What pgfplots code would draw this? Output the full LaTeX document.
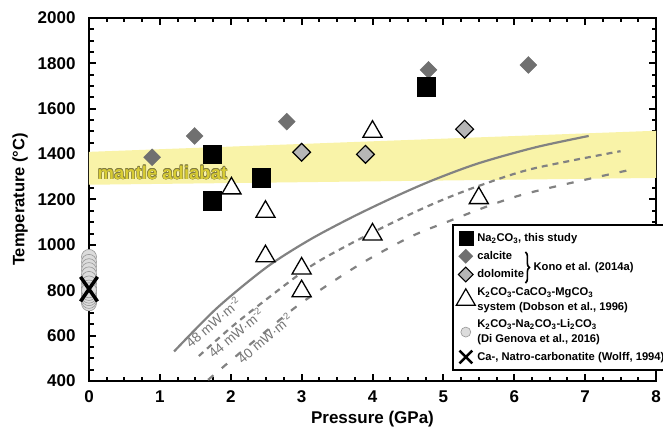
\documentclass[border=0pt]{standalone}
\usepackage{pgfplots}
\pgfplotsset{compat=1.18}
\usepackage{fontspec}
\setmainfont{Liberation Sans}
\usetikzlibrary{decorations.pathreplacing}

\definecolor{band}{RGB}{249,243,168}
\definecolor{calc}{RGB}{112,112,112}
\definecolor{dolo}{RGB}{182,182,182}
\definecolor{dgfill}{RGB}{220,220,220}
\definecolor{dgdraw}{RGB}{150,150,150}
\definecolor{curve}{RGB}{130,130,130}
\definecolor{lbl}{RGB}{115,115,115}
\definecolor{adfill}{RGB}{216,204,52}
\definecolor{adout}{RGB}{128,122,64}

% outlined "mantle adiabat" text
\newcommand\adtext[3]{\node[anchor=base west, inner sep=0pt, font=\bfseries\fontsize{18.5}{19}\selectfont, text=#3, xshift=#1, yshift=#2] at (axis cs:0.12,1289) {mantle adiabat};}

\begin{document}
\begin{tikzpicture}
\begin{axis}[
  name=ax,
  scale only axis, width=567pt, height=363pt,
  xmin=0, xmax=8, ymin=400, ymax=2000,
  xtick={0,...,8}, ytick={400,600,...,2000},
  minor x tick num=3, minor y tick num=3,
  tick align=inside,
  major tick length=7pt, minor tick length=4.5pt,
  every tick/.style={black, line width=2pt},
  axis line style={line width=2.5pt},
  clip=false,
  /pgf/number format/assume math mode=true,
  /pgf/number format/1000 sep={},
  ticklabel style={font=\bfseries\fontsize{17}{17}\selectfont},
  xticklabel style={yshift=-6pt},
  yticklabel style={xshift=-10pt},
  xlabel={Pressure (GPa)},
  ylabel={Temperature (°C)},
  every axis x label/.style={at={(axis description cs:0.5,0)}, anchor=center, yshift=-38pt,
    font=\bfseries\fontsize{17}{17}\selectfont},
  every axis y label/.style={at={(axis description cs:0,0.5)}, anchor=center, xshift=-69pt, rotate=90,
    font=\bfseries\fontsize{16.5}{17}\selectfont},
  legend style={at={(axis cs:5.127,1092)}, anchor=north west, draw=black, line width=1.8pt,
    fill=white, font=\bfseries\fontsize{11.2}{15}\selectfont, inner xsep=3pt, inner ysep=6.5pt,
    row sep=3.8pt, cells={anchor=west, align=left}},
  legend cell align=left,
]

% mantle adiabat band
\addplot[draw=none, fill=band, forget plot] coordinates {(0,1265) (8,1295) (8,1503) (0,1410) (0,1265)};

% geotherms
\addplot[curve, line width=2.2pt, smooth, forget plot] coordinates {
  (1.2,530) (1.8,720) (2.5,900) (3.1,1020) (3.7,1120) (4.3,1210) (4.85,1285) (5.5,1360) (6.3,1430) (7.05,1480)};
\addplot[curve, line width=2.2pt, smooth, dash pattern=on 6pt off 5pt, forget plot] coordinates {
  (1.55,510) (2.0,635) (2.4,735) (3.1,900) (3.6,990) (4.1,1070) (4.6,1145) (5.0,1200) (5.5,1260) (6.25,1335) (7.5,1413)};
\addplot[curve, line width=2.2pt, smooth, dash pattern=on 7pt off 11pt, forget plot] coordinates {
  (1.68,405) (2.0,490) (2.5,620) (3.0,745) (3.8,910) (4.5,1030) (5.0,1095) (6.1,1220) (7.7,1335)};

\node[rotate=40, text=lbl, font=\fontsize{13.5}{13.5}\selectfont] at (axis cs:1.75,660) {48 mW·m\textsuperscript{-2}};
\node[rotate=40, text=lbl, font=\fontsize{13.5}{13.5}\selectfont] at (axis cs:2.07,613) {44 mW·m\textsuperscript{-2}};
\node[rotate=40, text=lbl, font=\fontsize{13.5}{13.5}\selectfont] at (axis cs:2.48,590) {40 mW·m\textsuperscript{-2}};

\adtext{0.45pt}{0pt}{adout}
\adtext{-0.45pt}{0pt}{adout}
\adtext{0pt}{0.45pt}{adout}
\adtext{0pt}{-0.45pt}{adout}
\adtext{0.32pt}{0.32pt}{adout}
\adtext{-0.32pt}{0.32pt}{adout}
\adtext{0.32pt}{-0.32pt}{adout}
\adtext{-0.32pt}{-0.32pt}{adout}
\adtext{0pt}{0pt}{adfill}

% Kono et al. (2014a) calcite
\addplot[only marks, mark=square*, mark size=6pt, draw=calc, fill=calc, mark options={rotate=45}, forget plot] coordinates {
  (0.89,1386) (1.49,1480) (2.79,1543) (4.79,1771) (6.2,1793)};
% Kono et al. (2014a) dolomite
\addplot[only marks, mark=square*, mark size=6.3pt, draw=black, fill=dolo, line width=1.2pt, mark options={rotate=45}, forget plot] coordinates {
  (3.0,1408) (3.9,1399) (5.3,1510)};
% Dobson et al. (1996)
\addplot[only marks, mark=triangle*, mark size=11pt, draw=black, fill=white, line width=1.3pt, forget plot] coordinates {
  (2.01,1249) (2.49,1146) (2.49,950) (3.0,896) (3.0,796) (4.0,1046) (4.0,1499) (5.5,1206)};
% this study
\addplot[only marks, mark=square*, mark size=9.3pt, black, forget plot] coordinates {
  (1.74,1399) (1.74,1194) (2.43,1296) (4.76,1697)};
% Di Genova et al. (2016)
\addplot[only marks, mark=*, mark size=7.5pt, draw=dgdraw, fill=dgfill, line width=0.6pt, forget plot] coordinates {
  (0,947) (0,925) (0,906) (0,889) (0,870) (0,850) (0,830) (0,812) (0,742) (0,753) (0,765) (0,776) (0,788) (0,800)};
% Wolff (1994)
\addplot[only marks, mark=x, mark size=12pt, black, line width=3.5pt, mark options={yscale=1.45}, forget plot] coordinates {(0,805)};

\coordinate (kb) at (axis cs:5.127,1092);

\addlegendimage{only marks, mark=square*, mark size=7pt, black, line width=0.4pt}
\addlegendentry{Na\textsubscript{2}CO\textsubscript{3}, this study}
\addlegendimage{only marks, mark=square*, mark size=5pt, draw=calc, fill=calc, line width=0.4pt, mark options={rotate=45}}
\addlegendentry{calcite}
\addlegendimage{only marks, mark=square*, mark size=5.2pt, draw=black, fill=dolo, line width=1pt, mark options={rotate=45}}
\addlegendentry{dolomite}
\addlegendimage{only marks, mark=triangle*, mark size=11pt, draw=black, fill=white, line width=1.2pt}
\addlegendentry{K\textsubscript{2}CO\textsubscript{3}-CaCO\textsubscript{3}-MgCO\textsubscript{3}\\system (Dobson et al., 1996)}
\addlegendimage{only marks, mark=*, mark size=5pt, draw=dgdraw, fill=dgfill, line width=0.6pt}
\addlegendentry{K\textsubscript{2}CO\textsubscript{3}-Na\textsubscript{2}CO\textsubscript{3}-Li\textsubscript{2}CO\textsubscript{3}\\(Di Genova et al., 2016)}
\addlegendimage{only marks, mark=x, mark size=9pt, black, line width=2.5pt}
\addlegendentry{Ca-, Natro-carbonatite (Wolff, 1994)}
\end{axis}

% brace for Kono et al.
\draw[decorate, decoration={brace, amplitude=4pt}, line width=1.6pt]
  ([shift={(73pt,-28pt)}]kb) -- ([shift={(73pt,-59pt)}]kb);
\node[anchor=west, inner sep=0pt, font=\bfseries\fontsize{11.2}{14.5}\selectfont] at ([shift={(81pt,-43.5pt)}]kb) {Kono et al. (2014a)};

\pgfresetboundingbox
\path ([shift={(-89pt,-52pt)}]ax.south west) rectangle ([shift={(7pt,18pt)}]ax.north east);
\end{tikzpicture}
\end{document}
